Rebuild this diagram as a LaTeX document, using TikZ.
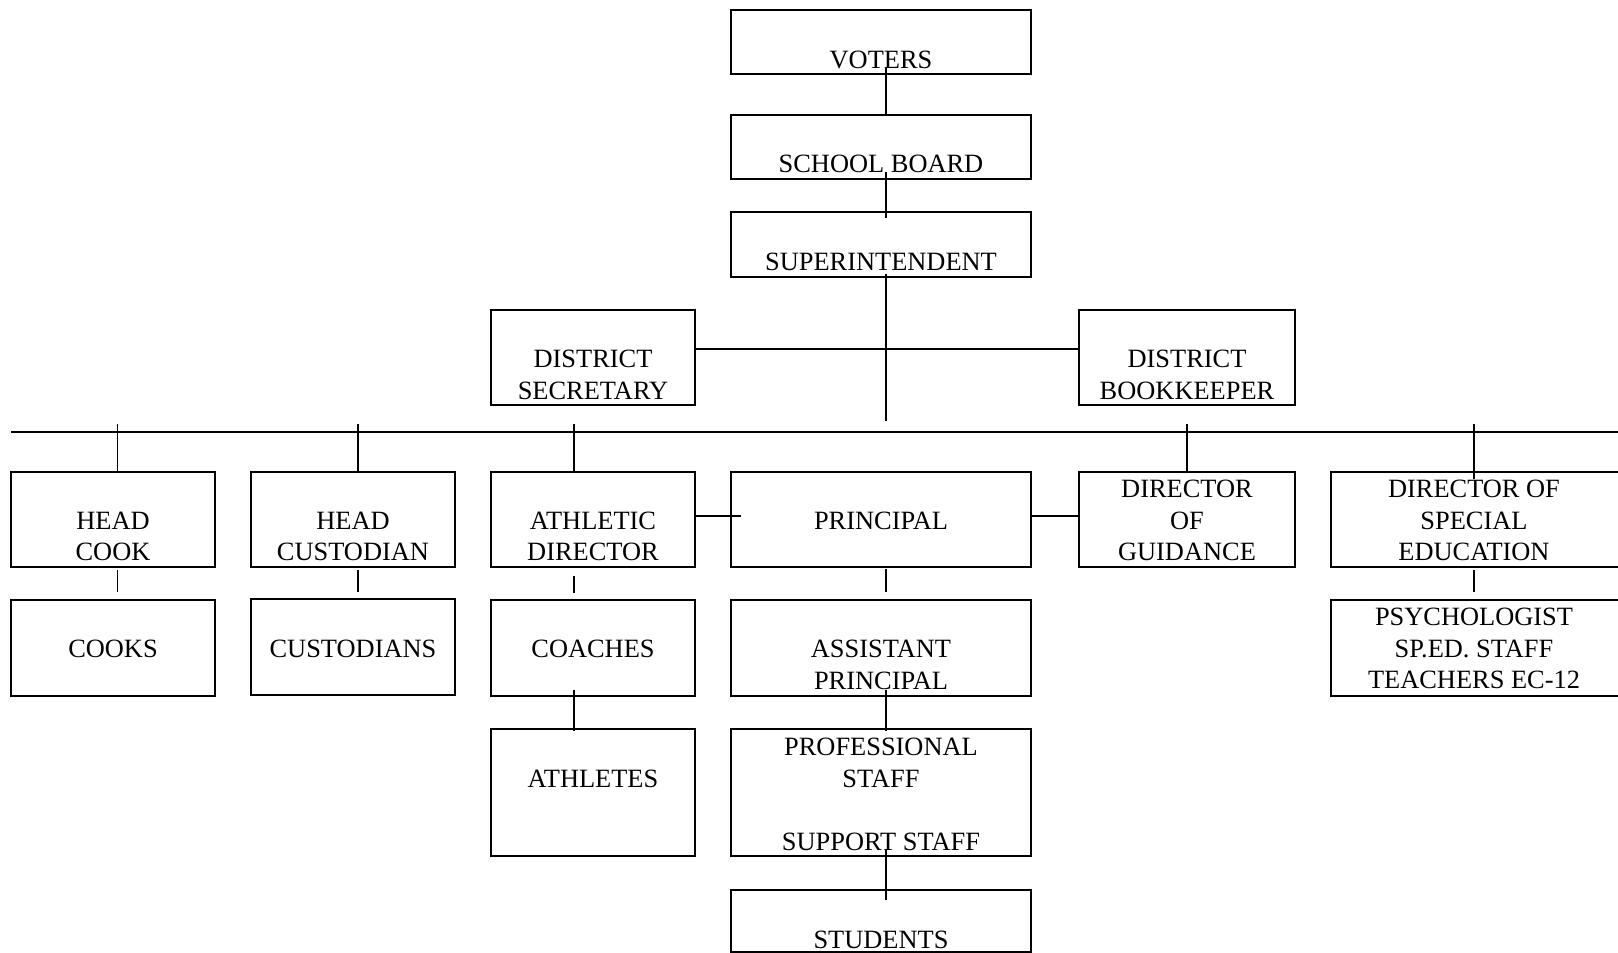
\documentclass[tikz,border=0pt]{standalone}
\usepackage{fontspec}
\setmainfont{Liberation Serif}
\usetikzlibrary{calc,fit}
\tikzset{
  box/.style={draw, line width=1.1pt, inner sep=0pt},
  txt/.style={inner sep=0pt, align=center, yshift=-0.8pt, font=\fontsize{13.2}{15.75}\selectfont},
  conn/.style={line width=0.85pt},
  bus/.style={line width=1pt}
}
\begin{document}
\begin{tikzpicture}[x=0.5pt,y=-0.5pt]
\useasboundingbox (0,0) rectangle (1618,953);
% boxes
\node[box, fit={(731,10) (1031,74)}] (voters) {};
\node[box, fit={(731,115) (1031,179)}] (board) {};
\node[box, fit={(731,212) (1031,277)}] (supt) {};
\node[box, fit={(491,310) (695,405)}] (sec) {};
\node[box, fit={(1079,310) (1295,405)}] (book) {};
\node[box, fit={(11,472) (215,567)}] (hcook) {};
\node[box, fit={(251,472) (455,567)}] (hcust) {};
\node[box, fit={(491,472) (695,567)}] (ad) {};
\node[box, fit={(731,472) (1031,567)}] (prin) {};
\node[box, fit={(1079,472) (1295,567)}] (dog) {};
\node[box, fit={(1331,472) (1622,567)}] (dse) {};
\node[box, fit={(11,600) (215,696)}] (cooks) {};
\node[box, fit={(251,599) (455,695)}] (custs) {};
\node[box, fit={(491,600) (695,696)}] (coaches) {};
\node[box, fit={(731,600) (1031,696)}] (ap) {};
\node[box, fit={(1331,600) (1622,696)}] (psy) {};
\node[box, fit={(491,729) (695,856)}] (athl) {};
\node[box, fit={(731,729) (1031,856)}] (prof) {};
\node[box, fit={(731,890) (1031,952)}] (stud) {};
% texts
\node[txt] (voters-t) at (881,58) {VOTERS};
\node[txt] (board-t) at (881,162) {SCHOOL BOARD};
\node[txt] (supt-t) at (881,260) {SUPERINTENDENT};
\node[txt] (sec-t) at (593,373.5) {DISTRICT\\SECRETARY};
\node[txt] (book-t) at (1187,373.5) {DISTRICT\\BOOKKEEPER};
\node[txt] (hcook-t) at (113,535) {HEAD\\COOK};
\node[txt] (hcust-t) at (353,535) {HEAD\\CUSTODIAN};
\node[txt] (ad-t) at (593,535) {ATHLETIC\\DIRECTOR};
\node[txt] (prin-t) at (881,519) {PRINCIPAL};
\node[txt] (dog-t) at (1187,519) {DIRECTOR\\OF\\GUIDANCE};
\node[txt] (dse-t) at (1474,519) {DIRECTOR OF\\SPECIAL\\EDUCATION};
\node[txt] (cooks-t) at (113,647) {COOKS};
\node[txt] (custs-t) at (353,647) {CUSTODIANS};
\node[txt] (coaches-t) at (593,647) {COACHES};
\node[txt] (ap-t) at (881,663.5) {ASSISTANT\\PRINCIPAL};
\node[txt] (psy-t) at (1474,647) {PSYCHOLOGIST\\SP.ED. STAFF\\TEACHERS EC-12};
\node[txt] (athl-t) at (593,777.5) {ATHLETES};
\node[txt] (prof-t) at (881,793) {PROFESSIONAL\\STAFF\\\mbox{}\\SUPPORT STAFF};
\node[txt] (stud-t) at (881,938) {STUDENTS};
% coordinates
\coordinate (hub) at (886,421);
\coordinate (busL) at (11,432);
\coordinate (busR) at (1618,432);
% connectors
\draw[conn] ($(voters.south)+(5,-7)$) -- ($(board.north -| voters.south)+(5,1)$);
\draw[conn] ($(board.south)+(5,-8)$) -- ($(supt.north)+(5,7)$);
\draw[conn] ($(supt.south)+(5,-4)$) -- (hub);
\draw[bus] ($(sec.east)+(0,-8.5)$) -- ($(book.west)+(0,-8.5)$);
\draw[bus] (busL) -- (busR);
\draw[conn] ($(hcook.north)+(4.5,0)$) -- ++(0,-47);
\draw[conn] ($(hcust.north)+(5,0)$) -- ++(0,-47);
\draw[conn] ($(ad.north)+(-19.3,0)$) -- ++(0,-47);
\draw[conn] ($(dog.north)+(0,0)$) -- ++(0,-47);
\draw[conn] ($(dse.north -| dse-t.center)+(0,8)$) -- ++(0,-55);
\draw[conn] ($(hcook.south)+(4.5,2)$) -- ($(cooks.north)+(4.5,-7)$);
\draw[conn] ($(hcust.south)+(5,2)$) -- ($(custs.north)+(5,-6)$);
\draw[conn] ($(ad.south)+(-19.3,8)$) -- ($(coaches.north)+(-19.3,-6)$);
\draw[conn] ($(prin.south)+(5,1)$) -- ($(ap.north)+(5,-7)$);
\draw[conn] ($(dse.south -| dse-t.center)+(0,2)$) -- ($(psy.north -| dse-t.center)+(0,-7)$);
\draw[conn] ($(coaches.south)+(-19.3,-7)$) -- ($(athl.north)+(-19.3,3)$);
\draw[conn] ($(ap.south)+(5,-7)$) -- ($(prof.north)+(5,3)$);
\draw[conn] ($(prof.south)+(5,-8)$) -- ($(stud.north)+(5,11)$);
\draw[bus] ($(ad.east)+(-2,-3.5)$) -- ($(prin.west)+(11,-3.5)$);
\draw[bus] ($(prin.east)+(-2,-3.5)$) -- ($(dog.west)+(0,-3.5)$);
\end{tikzpicture}
\end{document}
